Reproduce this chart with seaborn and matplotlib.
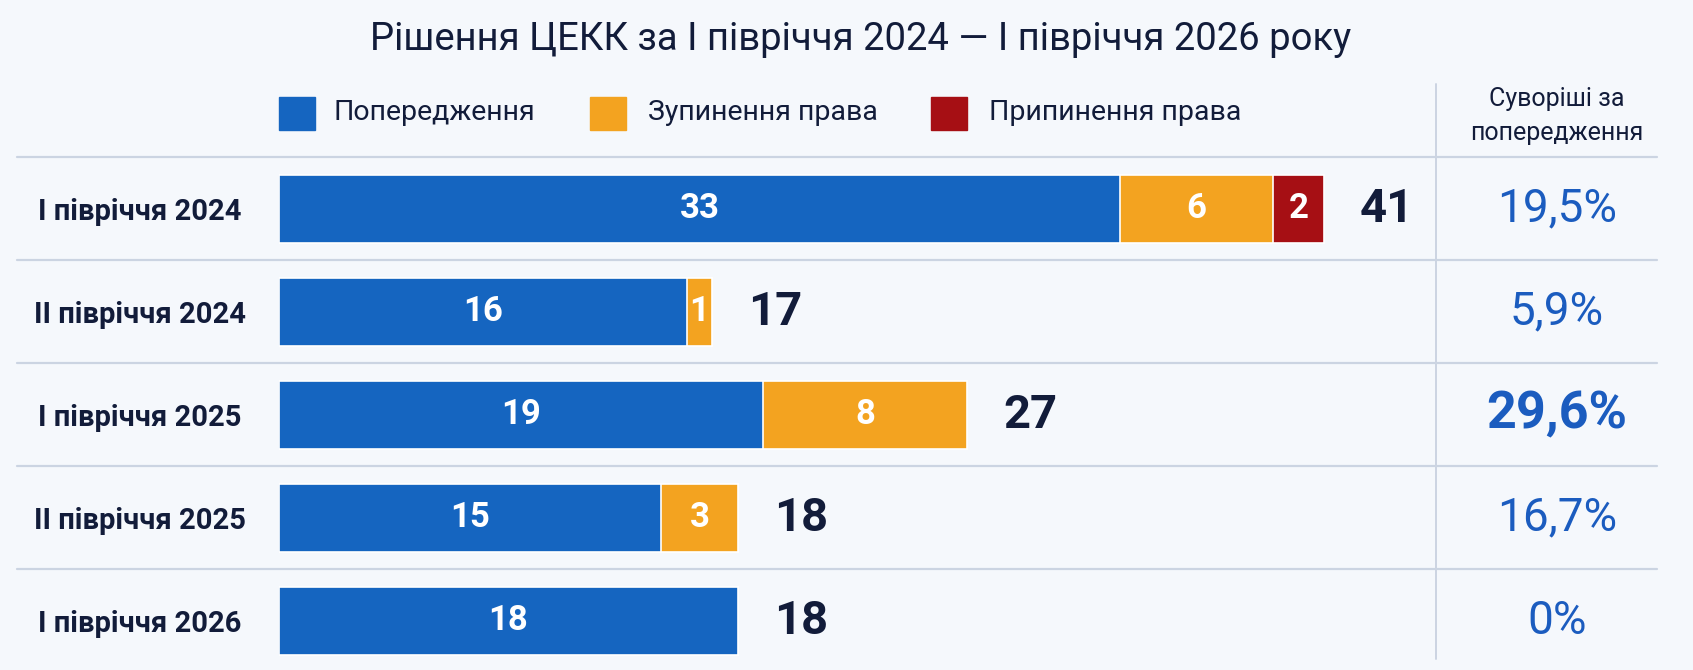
import numpy as np
import pandas as pd
import matplotlib
matplotlib.use("Agg")
import matplotlib.pyplot as plt
import seaborn as sns
from matplotlib import transforms
from matplotlib.patches import Rectangle
from matplotlib.lines import Line2D

# ---------------- data ----------------
periods = ["I півріччя 2024", "II півріччя 2024", "I півріччя 2025",
           "II півріччя 2025", "I півріччя 2026"]
warnings_ = [33, 16, 19, 15, 18]
suspensions = [6, 1, 8, 3, 0]
terminations = [2, 0, 0, 0, 0]
totals = [41, 17, 27, 18, 18]
stricter_share = ["19,5%", "5,9%", "29,6%", "16,7%", "0%"]
series_names = ["Попередження", "Зупинення права", "Припинення права"]
title = "Рішення ЦЕКК за I півріччя 2024 — I півріччя 2026 року"
side_header = "Суворіші за\nпопередження"

# ---------------- style ----------------
BG = "#f5f8fc"
NAVY = "#121c3a"
BLUE_TXT = "#1b5cbf"
LINE = "#cbd4e2"
colors = ["#1565c0", "#f3a320", "#a60f14"]

sns.set_theme(style="white")
plt.rcParams['font.family'] = ['Roboto', 'DejaVu Sans']

W, H = 1693, 670
fig = plt.figure(figsize=(W / 100, H / 100), dpi=100, facecolor=BG)


def fx(px):
    return px / W


def fy(py):
    return 1 - py / H


x0, x1 = 279, 1436
y0, y1 = 157, 670
ax = fig.add_axes([fx(x0), fy(y1), fx(x1) - fx(x0), fy(y0) - fy(y1)])
ax.set_facecolor("none")

df = pd.DataFrame({"period": periods, "warn": warnings_,
                   "susp": suspensions, "term": terminations})
df["c1"] = df["warn"]
df["c2"] = df["warn"] + df["susp"]
df["c3"] = df["c2"] + df["term"]

for col, color in [("c3", colors[2]), ("c2", colors[1]), ("c1", colors[0])]:
    sns.barplot(data=df, x=col, y="period", orient="h", color=color,
                saturation=1, width=0.66, edgecolor="white", linewidth=1.2,
                errorbar=None, ax=ax)

ax.set_xlim(0, 45.4)
ax.set_ylim(4.48, -0.5)
ax.set_xlabel("")
ax.set_ylabel("")
ax.set_xticks([])
for s in ax.spines.values():
    s.set_visible(False)

# row labels as centred tick labels
ax.tick_params(axis="y", length=0, pad=(x0 - 140) * 0.72)
for lbl in ax.get_yticklabels():
    lbl.set_ha("center")
    lbl.set_fontweight("bold")
    lbl.set_fontsize(21)
    lbl.set_color(NAVY)

# segment labels and totals
for i, row in df.iterrows():
    start = 0
    for val in (row["warn"], row["susp"], row["term"]):
        if val > 0:
            ax.text(start + val / 2, i, str(val), ha="center", va="center",
                    color="white", fontsize=25, fontweight="bold")
        start += val
    ax.annotate(str(totals[i]), xy=(row["c3"], i), xytext=(26, 0),
                textcoords="offset points", ha="left", va="center",
                fontsize=34, fontweight="bold", color=NAVY)

# separators
xmin = (17 - x0) / (x1 - x0)
xmax = (1657 - x0) / (x1 - x0)
for yy in [-0.5, 0.5, 1.5, 2.5, 3.5]:
    ax.axhline(yy, xmin=xmin, xmax=xmax, color=LINE, lw=1.6,
               clip_on=False, zorder=0)
fig.add_artist(Line2D([fx(1436), fx(1436)], [fy(84), fy(659)],
                      color=LINE, lw=1.4))

# right column
vals = [float(s.replace("%", "").replace(",", ".")) for s in stricter_share]
imax = int(np.argmax(vals))
trans = transforms.blended_transform_factory(fig.transFigure, ax.transData)
for i, s in enumerate(stricter_share):
    bold = i == imax
    ax.text(fx(1557), i, s, transform=trans, ha="center", va="center",
            color=BLUE_TXT, fontsize=37.5 if bold else 33,
            fontweight="bold" if bold else "normal")
fig.text(fx(1557), fy(116), side_header, ha="center", va="center",
         fontsize=18, color=NAVY, linespacing=1.5)

# title
fig.text(fx(861), fy(39), title, ha="center", va="center",
         fontsize=27.5, color=NAVY)

# legend
leg_sq = [279, 590, 931]
leg_tx = [333, 648, 989]
for sq, tx, name, c in zip(leg_sq, leg_tx, series_names, colors):
    fig.add_artist(Rectangle((fx(sq), fy(130)), fx(36), 33 / H,
                             transform=fig.transFigure, color=c))
    fig.text(fx(tx), fy(113), name, ha="left", va="center",
             fontsize=20.5, color=NAVY)

fig.savefig("out.png", dpi=100, facecolor=BG)
